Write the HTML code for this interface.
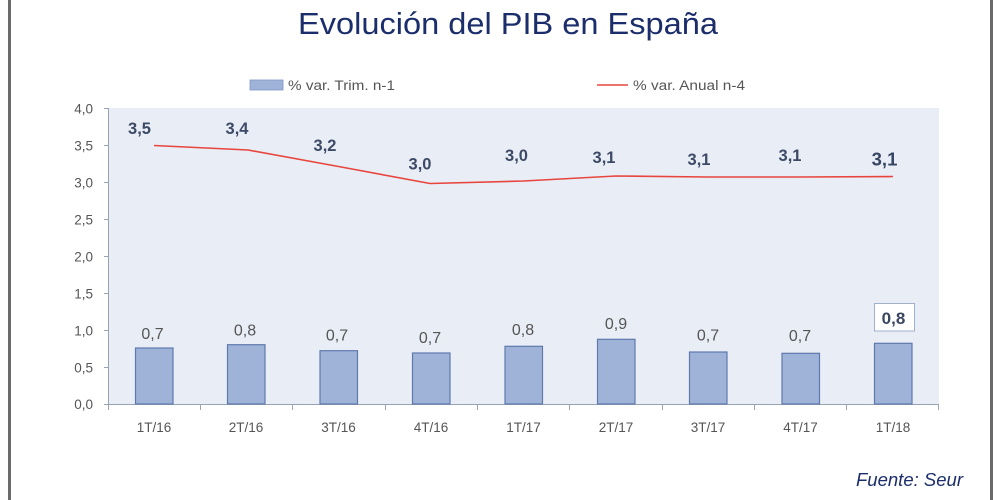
<!DOCTYPE html>
<html>
<head>
<meta charset="utf-8">
<style>
  html,body{margin:0;padding:0;background:#fff;}
  body{width:1000px;height:500px;overflow:hidden;}
  svg{display:block;}
</style>
</head>
<body>
<svg width="1000" height="500" viewBox="0 0 1000 500" xmlns="http://www.w3.org/2000/svg" font-family="Liberation Sans, Arial, sans-serif">
  <rect x="0" y="0" width="1000" height="500" fill="#ffffff"/>
  <!-- side borders -->
  <rect x="8" y="0" width="3" height="500" fill="#6a6a6a"/>
  <rect x="990" y="0" width="3" height="500" fill="#6a6a6a"/>

  <!-- title -->
  <text x="508" y="34" text-anchor="middle" font-size="31" fill="#1b2e6b" textLength="420" lengthAdjust="spacingAndGlyphs">Evolución del PIB en España</text>

  <!-- legend -->
  <rect x="250" y="80" width="33" height="10" fill="#9fb3d8" stroke="#8097c4" stroke-width="0.8"/>
  <text x="288" y="90" font-size="13.5" fill="#555" textLength="107" lengthAdjust="spacingAndGlyphs">% var. Trim. n-1</text>
  <line x1="597" y1="85" x2="628" y2="85" stroke="#e8453c" stroke-width="1.6"/>
  <text x="633" y="90" font-size="13.5" fill="#555" textLength="112" lengthAdjust="spacingAndGlyphs">% var. Anual n-4</text>

  <!-- plot area -->
  <rect x="109" y="108" width="830" height="296" fill="#e9edf6"/>

  <!-- axes -->
  <line x1="108.5" y1="108" x2="108.5" y2="410" stroke="#9aa3b3" stroke-width="1"/>
  <line x1="104" y1="404.5" x2="939" y2="404.5" stroke="#9aa3b3" stroke-width="1"/>
  <g stroke="#9aa3b3" stroke-width="1">
    <line x1="104" y1="108.5" x2="108.5" y2="108.5"/>
    <line x1="104" y1="145.5" x2="108.5" y2="145.5"/>
    <line x1="104" y1="182.5" x2="108.5" y2="182.5"/>
    <line x1="104" y1="219.5" x2="108.5" y2="219.5"/>
    <line x1="104" y1="256.5" x2="108.5" y2="256.5"/>
    <line x1="104" y1="293.5" x2="108.5" y2="293.5"/>
    <line x1="104" y1="330.5" x2="108.5" y2="330.5"/>
    <line x1="104" y1="367.5" x2="108.5" y2="367.5"/>
    <line x1="200.5" y1="404" x2="200.5" y2="410"/>
    <line x1="292.5" y1="404" x2="292.5" y2="410"/>
    <line x1="385.5" y1="404" x2="385.5" y2="410"/>
    <line x1="477.5" y1="404" x2="477.5" y2="410"/>
    <line x1="569.5" y1="404" x2="569.5" y2="410"/>
    <line x1="662.5" y1="404" x2="662.5" y2="410"/>
    <line x1="754.5" y1="404" x2="754.5" y2="410"/>
    <line x1="846.5" y1="404" x2="846.5" y2="410"/>
    <line x1="938.5" y1="404" x2="938.5" y2="410"/>
  </g>

  <!-- y labels -->
  <g font-size="13.5" fill="#555" text-anchor="end">
    <text x="93" y="113.5">4,0</text>
    <text x="93" y="150.5">3,5</text>
    <text x="93" y="187.5">3,0</text>
    <text x="93" y="224.5">2,5</text>
    <text x="93" y="261.5">2,0</text>
    <text x="93" y="298.5">1,5</text>
    <text x="93" y="335.5">1,0</text>
    <text x="93" y="372.5">0,5</text>
    <text x="93" y="409">0,0</text>
  </g>

  <!-- x labels -->
  <g font-size="13.5" fill="#555" text-anchor="middle">
    <text x="154" y="432">1T/16</text>
    <text x="246" y="432">2T/16</text>
    <text x="338.5" y="432">3T/16</text>
    <text x="431" y="432">4T/16</text>
    <text x="523.5" y="432">1T/17</text>
    <text x="616" y="432">2T/17</text>
    <text x="708" y="432">3T/17</text>
    <text x="800.5" y="432">4T/17</text>
    <text x="893" y="432">1T/18</text>
  </g>

  <!-- bars -->
  <g fill="#9fb3d8" stroke="#5f79ac" stroke-width="1.2">
    <rect x="135.5" y="348" width="37.5" height="56"/>
    <rect x="227.5" y="344.7" width="37.5" height="59.3"/>
    <rect x="320" y="350.7" width="37.5" height="53.3"/>
    <rect x="412.5" y="353" width="37.5" height="51"/>
    <rect x="505" y="346.3" width="37.5" height="57.7"/>
    <rect x="597.5" y="339.3" width="37.5" height="64.7"/>
    <rect x="689.5" y="352" width="37.5" height="52"/>
    <rect x="782" y="353.3" width="37.5" height="50.7"/>
    <rect x="874.5" y="343.3" width="37.5" height="60.7"/>
  </g>

  <!-- bar labels -->
  <g font-size="16" fill="#555" text-anchor="middle">
    <text x="152.5" y="339">0,7</text>
    <text x="245" y="335.5">0,8</text>
    <text x="337" y="340.5">0,7</text>
    <text x="430" y="343">0,7</text>
    <text x="523" y="335">0,8</text>
    <text x="616" y="329">0,9</text>
    <text x="708" y="340.5">0,7</text>
    <text x="800" y="341">0,7</text>
  </g>
  <rect x="874.5" y="303.5" width="40" height="27.5" fill="#ffffff" stroke="#9fb0c8" stroke-width="1"/>
  <text x="893.5" y="324" font-size="17" font-weight="bold" fill="#3a4660" text-anchor="middle">0,8</text>

  <!-- line -->
  <polyline fill="none" stroke="#e8453c" stroke-width="1.6" stroke-linejoin="round"
    points="154,145.5 248,150 338.5,166.5 430,183.5 523.5,181 616,176 708,177 800.5,177 893,176.5"/>

  <!-- line labels -->
  <g font-size="16.5" font-weight="bold" fill="#3d4a66" text-anchor="middle">
    <text x="139.5" y="134">3,5</text>
    <text x="237" y="134">3,4</text>
    <text x="325" y="151">3,2</text>
    <text x="420" y="169.5">3,0</text>
    <text x="516.5" y="161">3,0</text>
    <text x="604" y="163">3,1</text>
    <text x="699" y="165">3,1</text>
    <text x="790" y="161">3,1</text>
  </g>
  <text x="884.5" y="165.5" font-size="18.5" font-weight="bold" fill="#354562" text-anchor="middle">3,1</text>

  <!-- source -->
  <text x="856" y="486" font-size="18.5" font-style="italic" fill="#1b2e6b" textLength="107" lengthAdjust="spacingAndGlyphs">Fuente: Seur</text>
</svg>
</body>
</html>
